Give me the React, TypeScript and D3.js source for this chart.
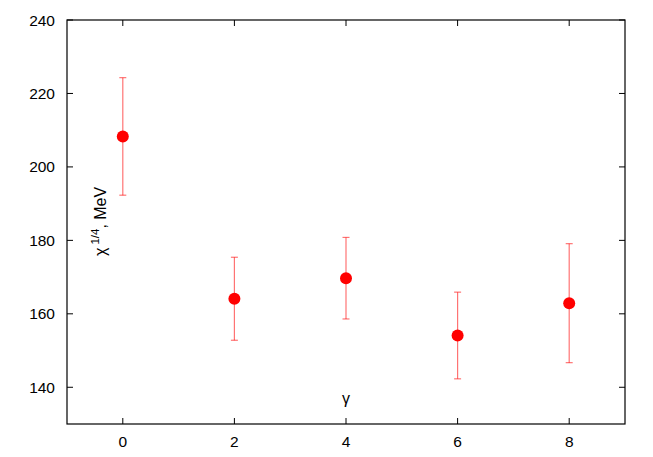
import { useEffect, useRef } from "react";
import * as d3 from "d3";

const gammaValues = [0, 2, 4, 6, 8];
const chiValues = [208.3, 164.1, 169.7, 154.1, 162.9];
const chiErrors = [16.0, 11.3, 11.1, 11.8, 16.2];
const xTicks = [0, 2, 4, 6, 8];
const yTicks = [140, 160, 180, 200, 220, 240];

const W = 653;
const H = 457;
const margin = { left: 67, right: 28, top: 20, bottom: 33 };
const font = "'Liberation Sans', Arial, sans-serif";

export default function App() {
  const svgRef = useRef<SVGSVGElement>(null);

  useEffect(() => {
    const svg = d3.select(svgRef.current);
    svg.selectAll("*").remove();

    const x = d3.scaleLinear().domain([-1, 9]).range([margin.left, W - margin.right]);
    const y = d3.scaleLinear().domain([130, 240]).range([H - margin.bottom, margin.top]);
    const [x0, x1] = x.range();
    const [y0, y1] = y.range();
    const tk = 6;

    const g = svg.append("g");

    // ticks (mirrored on all sides, pointing inward)
    g.selectAll("line.xb")
      .data(xTicks)
      .enter()
      .append("line")
      .attr("x1", (d) => x(d))
      .attr("x2", (d) => x(d))
      .attr("y1", y0)
      .attr("y2", y0 - tk)
      .attr("stroke", "#000");
    g.selectAll("line.xt")
      .data(xTicks)
      .enter()
      .append("line")
      .attr("x1", (d) => x(d))
      .attr("x2", (d) => x(d))
      .attr("y1", y1)
      .attr("y2", y1 + tk)
      .attr("stroke", "#000");
    g.selectAll("line.yl")
      .data(yTicks)
      .enter()
      .append("line")
      .attr("x1", x0)
      .attr("x2", x0 + tk)
      .attr("y1", (d) => y(d))
      .attr("y2", (d) => y(d))
      .attr("stroke", "#000");
    g.selectAll("line.yr")
      .data(yTicks)
      .enter()
      .append("line")
      .attr("x1", x1)
      .attr("x2", x1 - tk)
      .attr("y1", (d) => y(d))
      .attr("y2", (d) => y(d))
      .attr("stroke", "#000");

    // frame
    g.append("rect")
      .attr("x", x0)
      .attr("y", y1)
      .attr("width", x1 - x0)
      .attr("height", y0 - y1)
      .attr("fill", "none")
      .attr("stroke", "#000")
      .attr("stroke-width", 1.2);

    // tick labels
    g.selectAll("text.xl")
      .data(xTicks)
      .enter()
      .append("text")
      .attr("x", (d) => x(d))
      .attr("y", y0 + 23)
      .attr("text-anchor", "middle")
      .attr("font-family", font)
      .attr("font-size", 15.5)
      .text((d) => d);
    g.selectAll("text.yl")
      .data(yTicks)
      .enter()
      .append("text")
      .attr("x", x0 - 12)
      .attr("y", (d) => y(d) + 5.5)
      .attr("text-anchor", "end")
      .attr("font-family", font)
      .attr("font-size", 15.5)
      .text((d) => d);

    // error bars
    const cap = 3.5;
    const eb = g.append("g").attr("stroke", "#ff0000").attr("stroke-opacity", 0.55).attr("stroke-width", 1.2);
    gammaValues.forEach((gv, i) => {
      const cx = x(gv);
      const lo = y(chiValues[i] - chiErrors[i]);
      const hi = y(chiValues[i] + chiErrors[i]);
      eb.append("line").attr("x1", cx).attr("x2", cx).attr("y1", lo).attr("y2", hi);
      eb.append("line").attr("x1", cx - cap).attr("x2", cx + cap).attr("y1", lo).attr("y2", lo);
      eb.append("line").attr("x1", cx - cap).attr("x2", cx + cap).attr("y1", hi).attr("y2", hi);
    });

    // points
    g.selectAll("circle")
      .data(gammaValues)
      .enter()
      .append("circle")
      .attr("cx", (d) => x(d))
      .attr("cy", (_, i) => y(chiValues[i]))
      .attr("r", 6)
      .attr("fill", "#ff0000");

    // axis labels
    g.append("text")
      .attr("x", x(4))
      .attr("y", 404)
      .attr("text-anchor", "middle")
      .attr("font-family", font)
      .attr("font-size", 16)
      .text("γ");

    const yl = g
      .append("text")
      .attr("transform", "translate(106,256) rotate(-90)")
      .attr("font-family", font)
      .attr("font-size", 16);
    yl.append("tspan").text("χ");
    yl.append("tspan").attr("dy", -7).attr("dx", 3).attr("font-size", 11.5).text("1/4");
    yl.append("tspan").attr("dy", 7).text(", MeV");
  }, []);

  return (
    <svg
      ref={svgRef}
      width={W}
      height={H}
      style={{ position: "absolute", left: 0, top: 0, background: "#fff" }}
    />
  );
}
